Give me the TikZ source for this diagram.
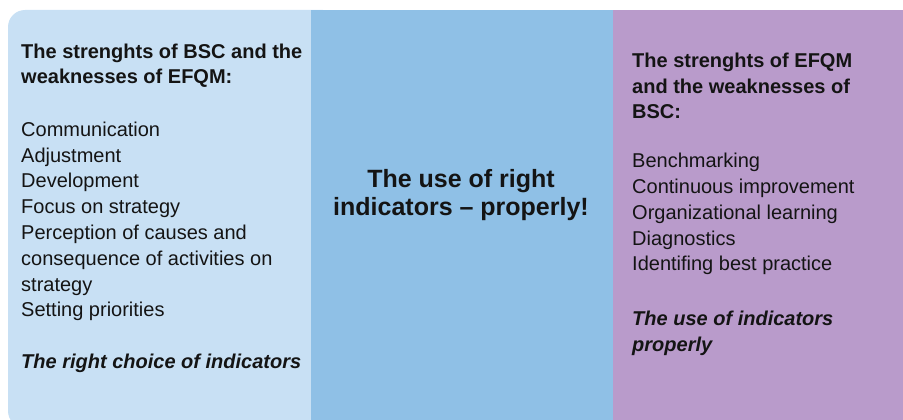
\documentclass[tikz,border=0pt]{standalone}
\usepackage{fontspec}
\setmainfont{Liberation Sans}
\definecolor{leftblue}{RGB}{200,224,244}
\definecolor{midblue}{RGB}{143,192,230}
\definecolor{rightpurple}{RGB}{185,155,203}
\definecolor{ink}{RGB}{20,20,20}
\newcommand\firstline{\rule{0pt}{16pt}}
\newcommand\midfirst{\rule{0pt}{20pt}}
\begin{document}
\begin{tikzpicture}[x=1pt,y=-1pt,
  sidetext/.style={anchor=north west, inner sep=0pt, align=left, text=ink,
    font=\fontsize{20}{25.8}\selectfont},
  sidehead/.style={sidetext, font=\fontsize{20}{25.8}\selectfont\bfseries},
  sidefoot/.style={sidetext, font=\fontsize{20}{25.8}\selectfont\bfseries\itshape},
  midtext/.style={anchor=north, inner sep=0pt, align=center, text=ink,
    font=\fontsize{25}{28.5}\selectfont\bfseries}]
\useasboundingbox (0,0) rectangle (903,420);
% panels
\fill[leftblue, rounded corners=17pt] (8,10) rectangle (340,428);
\fill[rightpurple] (600,10) rectangle (903,420);
\fill[midblue] (311,10) rectangle (613,420);
% left panel
\node[sidehead] (lhead) at (21,42) {\firstline The strenghts of BSC and the\\weaknesses of EFQM:};
\node[sidetext] (llist) at (21,120) {\firstline Communication\\Adjustment\\Development\\Focus on strategy\\Perception of causes and\\consequence of activities on\\strategy\\Setting priorities};
\node[sidefoot] (lfoot) at (21,352) {\firstline The right choice of indicators};
% middle panel
\node[midtext] (mid) at (461,167) {\midfirst The use of right\\indicators -- properly!};
% right panel
\node[sidehead] (rhead) at (632,51) {\firstline The strenghts of EFQM\\and the weaknesses of\\BSC:};
\node[sidetext] (rlist) at (632,151.5) {\firstline Benchmarking\\Continuous improvement\\Organizational learning\\Diagnostics\\Identifing best practice};
\node[sidefoot] (rfoot) at (632,309) {\firstline The use of indicators\\properly};
\end{tikzpicture}
\end{document}
